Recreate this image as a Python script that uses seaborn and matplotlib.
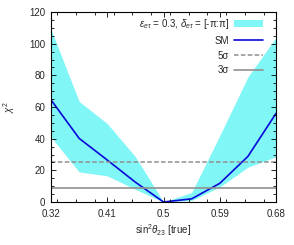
import numpy as np
import seaborn as sns
import matplotlib.pyplot as plt
from matplotlib.ticker import MultipleLocator

# data
s23 = [0.32, 0.365, 0.41, 0.455, 0.5, 0.545, 0.59, 0.635, 0.68]
chi2_sm = [64.5, 40.2, 26.5, 12.5, 0.0, 2.0, 11.8, 28.8, 56.0]
band_hi = [109.0, 63.5, 49.5, 28.6, 0.0, 6.0, 42.0, 79.0, 104.0]
band_lo = [41.0, 19.0, 16.5, 8.0, 0.0, 1.0, 9.5, 22.0, 28.6]
sig5 = 25
sig3 = 9

sns.set_theme(style="ticks")
plt.rcParams['font.family'] = ['Liberation Sans', 'DejaVu Sans']
plt.rcParams['mathtext.fontset'] = 'custom'
plt.rcParams['mathtext.rm'] = 'Liberation Sans'
plt.rcParams['mathtext.it'] = 'Liberation Sans:italic'

fig = plt.figure(figsize=(2.94, 2.45), dpi=100)
ax = fig.add_axes([0.1735, 0.1755, 0.7655, 0.7755])
ax.set_axisbelow(False)

ax.fill_between(s23, band_lo, band_hi, color="#80f6f6", lw=0,
                label=r"$\epsilon_{e\tau}$ = 0.3, $\delta_{e\tau}$ = [-π:π]")
sns.lineplot(x=s23, y=chi2_sm, color="#0808d8", lw=1.2, ax=ax, label="SM")
ax.axhline(sig5, color="#909090", lw=1.1, ls=(0, (3, 1.5)), label="5σ")
ax.axhline(sig3, color="#909090", lw=1.2, label="3σ")

ax.set_xlim(0.32, 0.68)
ax.set_ylim(0, 120)
ax.set_xticks([0.32, 0.41, 0.5, 0.59, 0.68])
ax.set_xticklabels(["0.32", "0.41", "0.5", "0.59", "0.68"])
ax.xaxis.set_minor_locator(MultipleLocator(0.03))
ax.yaxis.set_major_locator(MultipleLocator(20))
ax.yaxis.set_minor_locator(MultipleLocator(5))
ax.tick_params(which="both", direction="in", top=True, right=True,
               labelsize=7, width=0.6, color="black")
ax.tick_params(axis="x", pad=5)
ax.tick_params(axis="y", pad=4)
ax.tick_params(which="major", length=3.5)
ax.tick_params(which="minor", length=2)
for sp in ax.spines.values():
    sp.set_linewidth(0.8)
    sp.set_color("black")

ax.set_xlabel(r"sin$^2\theta_{23}$ [true]", fontsize=7, labelpad=2)
ax.set_ylabel(r"$\chi^2$", fontsize=7, labelpad=9)

ax.legend(loc="upper right", frameon=False, fontsize=7, markerfirst=False,
          handlelength=3.0, handletextpad=0.5, labelspacing=0.5,
          borderaxespad=0, bbox_to_anchor=(0.96, 0.995))

fig.savefig("out.png", dpi=100)
